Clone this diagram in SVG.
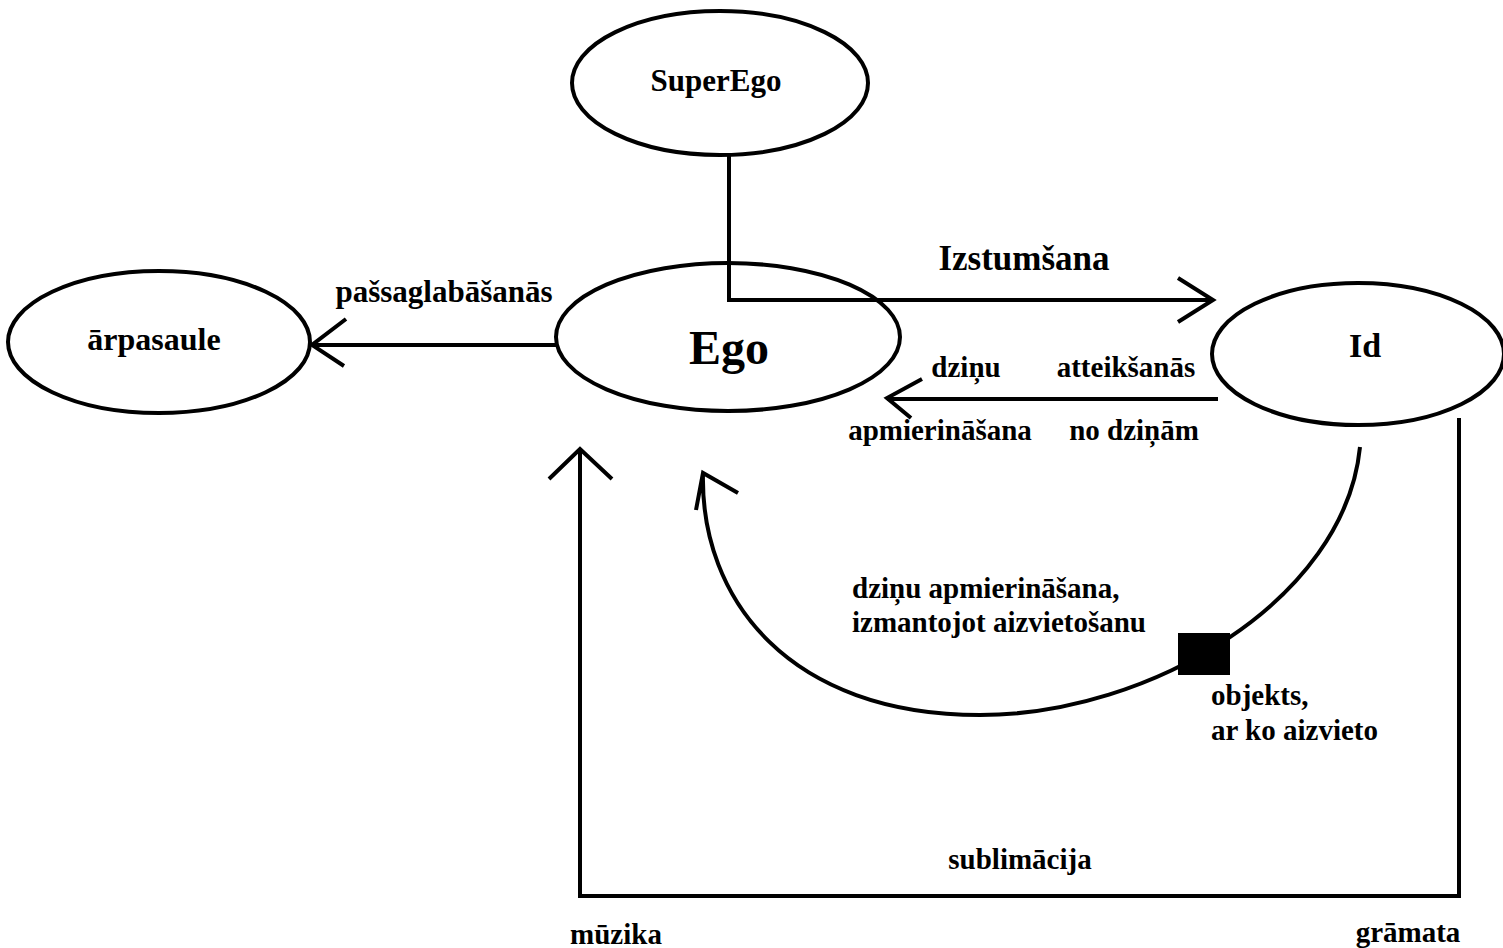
<svg xmlns="http://www.w3.org/2000/svg" width="1503" height="948" viewBox="0 0 1503 948">
<style>
.node{fill:#fff;stroke:#000;stroke-width:4}
.ln{fill:none;stroke:#000;stroke-width:4;stroke-linecap:butt;stroke-linejoin:miter}
.t{font-family:"Liberation Serif","Times New Roman",serif;font-weight:bold;fill:#000;text-anchor:middle}
.s{font-size:29px}
.l{text-anchor:start}
</style>
<rect width="1503" height="948" fill="#fff"/>
<g id="superego">
<ellipse class="node" cx="720" cy="83" rx="148" ry="72"/>
<text class="t" x="716" y="91" font-size="31">SuperEgo</text>
</g>
<g id="arpasaule">
<ellipse class="node" cx="159" cy="342" rx="151" ry="71"/>
<text class="t" x="154" y="350" font-size="32">ārpasaule</text>
</g>
<g id="ego">
<ellipse class="node" cx="728" cy="337" rx="172" ry="74"/>
<text class="t" x="729" y="364" font-size="48">Ego</text>
</g>
<g id="id">
<ellipse class="node" cx="1358" cy="354" rx="146" ry="71"/>
<text class="t" x="1365" y="357" font-size="34">Id</text>
</g>
<g id="object">
<rect x="1178" y="633" width="52" height="42" fill="#000"/>
</g>
<g id="connectors">
<path class="ln" d="M556,345 H312 M346,319 L312,345 L344,366"/>
<path class="ln" d="M729,155 V300 H1213 M1178,278 L1213,300 L1178,322"/>
<path class="ln" d="M1218,399 H887 M922,379 L887,398 L911,418"/>
<path class="ln" d="M1360,447 C1345,600 1150,715 980,715 C790,715 700,600 703,473 M696,510 L703,473 L738,493"/>
<path class="ln" d="M580,449 V896 H1459 V418 M549,479 L580,449 L612,479"/>
</g>
<g id="labels">
<text class="t" x="444" y="302" font-size="31">pašsaglabāšanās</text>
<text class="t" x="1024" y="270" font-size="35">Izstumšana</text>
<text class="t s" x="966" y="377">dziņu</text>
<text class="t s" x="1126" y="377">atteikšanās</text>
<text class="t s" x="940" y="440">apmierināšana</text>
<text class="t s" x="1134" y="440">no dziņām</text>
<text class="t s l" x="852" y="598">dziņu apmierināšana,</text>
<text class="t s l" x="852" y="632">izmantojot aizvietošanu</text>
<text class="t s l" x="1211" y="705">objekts,</text>
<text class="t s l" x="1211" y="740">ar ko aizvieto</text>
<text class="t s" x="1020" y="869">sublimācija</text>
<text class="t s" x="616" y="944">mūzika</text>
<text class="t s" x="1408" y="942">grāmata</text>
</g>
</svg>
